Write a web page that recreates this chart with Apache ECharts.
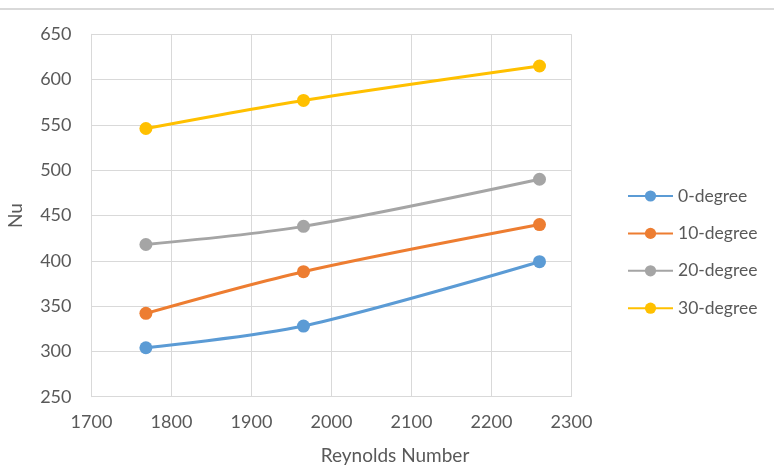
<!DOCTYPE html>
<html><head><meta charset="utf-8">
<script src="https://cdn.jsdelivr.net/npm/echarts@6/dist/echarts.min.js"></script>
<style>html,body{margin:0;padding:0;background:#fff}#c{width:774px;height:465px}</style>
</head><body><div id="c"></div>
<script>
const reynolds = [1768, 1965, 2260];
const seriesNames = ['0-degree', '10-degree', '20-degree', '30-degree'];
const nu0 = [304, 328, 399];
const nu10 = [342, 388, 440];
const nu20 = [418, 438, 490];
const nu30 = [546, 577, 615];
const colors = ['#5B9BD5', '#ED7D31', '#A5A5A5', '#FFC000'];
const allValues = [nu0, nu10, nu20, nu30];
const font = 'Lato, "Open Sans", sans-serif';
const chart = echarts.init(document.getElementById('c'));
chart.setOption({
  animation: false,
  grid: {left: 91.5, right: 202.5, top: 34.3, bottom: 68.3, outerBoundsMode: 'none', containLabel: false},
  graphic: [{type: 'rect', shape: {x: 0, y: 8, width: 774, height: 2}, style: {fill: '#d9d9d9'}}],
  legend: {
    orient: 'vertical', left: 627, top: 186, padding: 0, itemGap: 17.4, itemWidth: 45, itemHeight: 14,
    textStyle: {fontFamily: font, fontSize: 17.5, lineHeight: 20, color: '#595959'},
    data: seriesNames
  },
  xAxis: {
    type: 'value', min: 1700, max: 2300, interval: 100,
    name: 'Reynolds Number', nameLocation: 'middle', nameGap: 50,
    nameTextStyle: {fontFamily: font, fontSize: 19, color: '#595959', padding: [0, 0, 0, 127]},
    axisLine: {show: true, lineStyle: {color: '#d9d9d9', width: 1}},
    axisTick: {show: false},
    axisLabel: {fontFamily: font, fontSize: 18, color: '#595959', margin: 16, formatter: v => String(v)},
    splitLine: {show: true, lineStyle: {color: '#d9d9d9', width: 1}}
  },
  yAxis: {
    type: 'value', min: 250, max: 650, interval: 50,
    name: 'Nu', nameLocation: 'middle', nameGap: 66, nameRotate: 90,
    nameTextStyle: {fontFamily: font, fontSize: 19, color: '#595959'},
    axisLine: {show: true, lineStyle: {color: '#d9d9d9', width: 1}},
    axisTick: {show: false},
    axisLabel: {fontFamily: font, fontSize: 18, color: '#595959', margin: 20},
    splitLine: {show: true, lineStyle: {color: '#d9d9d9', width: 1}}
  },
  series: seriesNames.map((n, i) => ({
    name: n, type: 'line', smooth: 0.3,
    data: reynolds.map((r, j) => [r, allValues[i][j]]),
    symbol: 'circle', symbolSize: 13,
    itemStyle: {color: colors[i]},
    lineStyle: {color: colors[i], width: 3}
  }))
});
</script></body></html>
